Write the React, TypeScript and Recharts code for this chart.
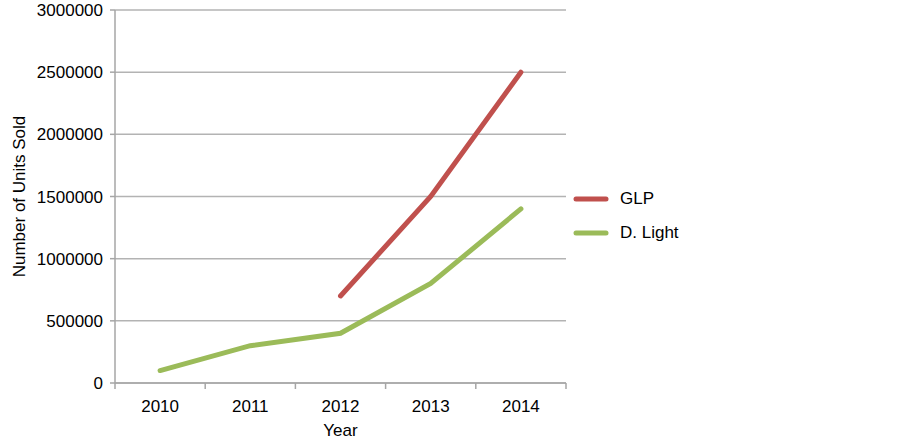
import React from 'react';
import { LineChart, Line, XAxis, YAxis, CartesianGrid, Legend } from 'recharts';

const years = [2010, 2011, 2012, 2013, 2014];
const glp = [null, null, 700000, 1500000, 2500000];
const dLight = [100000, 300000, 400000, 800000, 1400000];
const yTicks = [0, 500000, 1000000, 1500000, 2000000, 2500000, 3000000];
const seriesNames = ['GLP', 'D. Light'];

const data = years.map((y, i) => ({ year: y, GLP: glp[i], 'D. Light': dLight[i] }));
const boundaries = [...years.map((y) => y - 0.5), years[years.length - 1] + 0.5];
const xTicks = [...boundaries, ...years].sort((a, b) => a - b);

const FONT = 'Liberation Sans, Arial, sans-serif';
const AXIS = '#a6a6a6';
const FS = 17;

const XTick = (props: any) => {
  const { x, y, payload } = props;
  const v = payload.value;
  if (Number.isInteger(v)) {
    return (
      <text x={x} y={y + 21} textAnchor="middle" fontFamily={FONT} fontSize={FS} fill="#000">
        {v}
      </text>
    );
  }
  return <line x1={x} x2={x} y1={y - 8} y2={y - 2} stroke={AXIS} strokeWidth={1.5} />;
};

const LegendContent = (props: any) => {
  const { payload } = props;
  const items = seriesNames
    .map((n) => (payload || []).find((p: any) => p.value === n))
    .filter(Boolean);
  return (
    <div style={{ fontFamily: FONT, fontSize: FS }}>
      {items.map((p: any) => (
        <div key={p.value} style={{ display: 'flex', alignItems: 'center', height: 34 }}>
          <svg width={40} height={10} style={{ marginRight: 8 }}>
            <line x1={4} x2={34} y1={5} y2={5} stroke={p.color} strokeWidth={5} strokeLinecap="round" />
          </svg>
          <span>{p.value}</span>
        </div>
      ))}
    </div>
  );
};

export default function App() {
  return (
    <div style={{ position: 'absolute', left: 0, top: 0, width: 903, height: 443, background: '#fff' }}>
      <LineChart width={903} height={443} data={data} margin={{ top: 10, right: 337, left: 0, bottom: 0 }}>
        <CartesianGrid horizontal vertical={false} stroke="#b3b3b3" strokeWidth={1.5} />
        <XAxis
          dataKey="year"
          type="number"
          domain={[boundaries[0], boundaries[boundaries.length - 1]]}
          ticks={xTicks}
          interval={0}
          tick={<XTick />}
          tickLine={false}
          axisLine={{ stroke: AXIS, strokeWidth: 1.5 }}
          height={60}
          label={{ value: 'Year', position: 'insideBottom', offset: 7, fontFamily: FONT, fontSize: FS, fill: '#000' }}
        />
        <YAxis
          domain={[0, 3000000]}
          ticks={yTicks}
          interval={0}
          width={115}
          tickSize={5}
          tickMargin={7}
          tickLine={{ stroke: AXIS, strokeWidth: 1.5 }}
          axisLine={{ stroke: AXIS, strokeWidth: 1.5 }}
          tick={{ fontFamily: FONT, fontSize: FS, fill: '#000' }}
          label={{ value: 'Number of Units Sold', angle: -90, position: 'insideLeft', offset: 19, fontFamily: FONT, fontSize: FS, fill: '#000', style: { textAnchor: 'middle' } }}
        />
        <Legend
          layout="horizontal"
          verticalAlign="middle"
          align="center"
          content={<LegendContent />}
          wrapperStyle={{ left: 572, top: 182, width: 150 }}
        />
        <Line dataKey="GLP" stroke="#c0504d" strokeWidth={5} dot={false} isAnimationActive={false} connectNulls={false} strokeLinecap="round" />
        <Line dataKey="D. Light" stroke="#9bbb59" strokeWidth={5} dot={false} isAnimationActive={false} strokeLinecap="round" />
      </LineChart>
    </div>
  );
}
